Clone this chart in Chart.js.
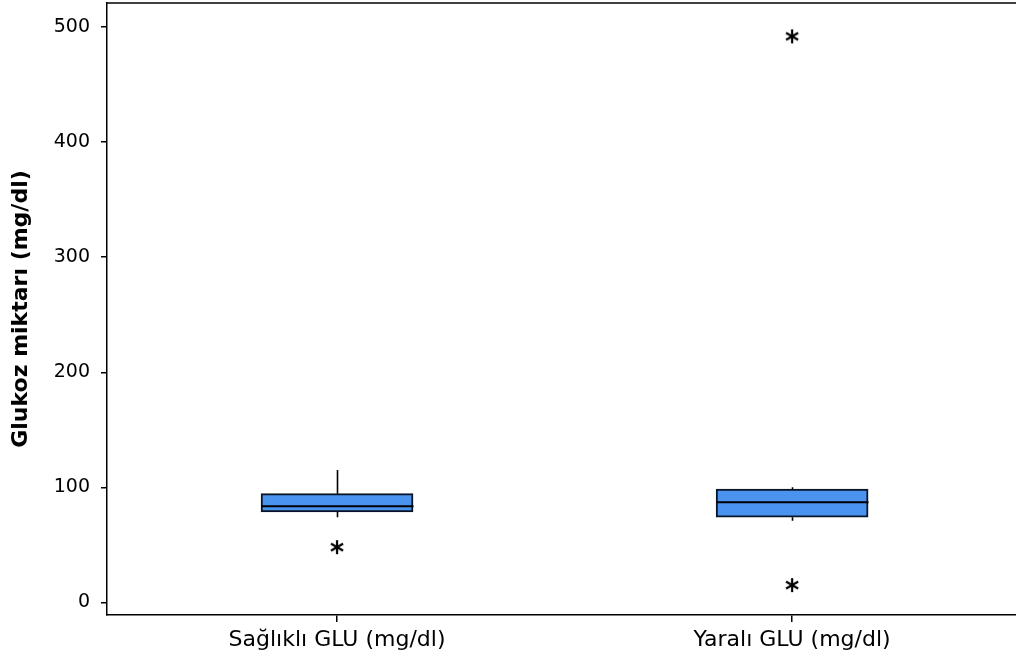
<!DOCTYPE html>
<html>
<head>
<meta charset="utf-8">
<script src="https://cdn.jsdelivr.net/npm/chart.js@4/dist/chart.umd.min.js"></script>
<style>
html,body{margin:0;padding:0;background:#fff;}
#wrap{width:1016px;height:662px;position:relative;}
</style>
</head>
<body>
<div id="wrap"><canvas id="c" width="1016" height="662"></canvas></div>
<script>
// ---- data ----
const categories = ['Sağlıklı GLU (mg/dl)', 'Yaralı GLU (mg/dl)'];
const positions = [1, 2];
const q1 = [78.5, 74];
const median = [83.5, 87];
const q3 = [94.5, 98.5];
const whiskerLow = [74, 71];
const whiskerHigh = [115, 100];
const outliers = [[48], [15, 492]];
const yTicks = [0, 100, 200, 300, 400, 500];

// asterisk point style
function makeStar(){
  const s = 18, cv = document.createElement('canvas');
  cv.width = s; cv.height = s;
  const g = cv.getContext('2d');
  g.strokeStyle = '#000'; g.lineWidth = 2.2; g.lineCap = 'butt';
  const cx = s/2, cy = s/2, r = 7;
  [90, 30, 150].forEach(a => {
    const rad = a*Math.PI/180, dx = Math.cos(rad)*r, dy = Math.sin(rad)*r;
    g.beginPath(); g.moveTo(cx-dx, cy-dy); g.lineTo(cx+dx, cy+dy); g.stroke();
  });
  return cv;
}
const star = makeStar();

const boxData = positions.map((p,i) => ({x: p, y: [q1[i], q3[i]]}));
const outlierData = [];
outliers.forEach((arr,i) => arr.forEach(v => outlierData.push({x: positions[i], y: v})));

const boxPlugin = {
  id: 'boxExtras',
  afterDatasetsDraw(chart){
    const ctx = chart.ctx, xs = chart.scales.x, ys = chart.scales.y;
    const half = 76;
    ctx.save();
    ctx.strokeStyle = '#000';
    positions.forEach((p,i) => {
      const x = Math.round(xs.getPixelForValue(p)) + 0.5;
      ctx.lineWidth = 1.6;
      ctx.beginPath();
      ctx.moveTo(x, ys.getPixelForValue(q3[i])); ctx.lineTo(x, ys.getPixelForValue(whiskerHigh[i]));
      ctx.moveTo(x, ys.getPixelForValue(q1[i])); ctx.lineTo(x, ys.getPixelForValue(whiskerLow[i]));
      ctx.stroke();
      ctx.lineWidth = 2;
      const ym = ys.getPixelForValue(median[i]);
      ctx.beginPath(); ctx.moveTo(x-half, ym); ctx.lineTo(x+half, ym); ctx.stroke();
    });
    // top frame line
    const a = chart.chartArea;
    ctx.lineWidth = 1.5;
    ctx.beginPath(); ctx.moveTo(a.left, a.top); ctx.lineTo(chart.width, a.top); ctx.stroke();
    ctx.restore();
  }
};

new Chart(document.getElementById('c'), {
  data: {
    datasets: [
      {
        type: 'bar',
        data: boxData,
        backgroundColor: '#4a94f0',
        borderColor: '#0a1428',
        borderWidth: 2,
        borderSkipped: false,
        barThickness: 152,
        order: 2
      },
      {
        type: 'scatter',
        data: outlierData,
        pointStyle: star,
        pointRadius: 9,
        order: 1
      }
    ]
  },
  plugins: [boxPlugin],
  options: {
    responsive: false,
    animation: false,
    layout: {autoPadding: false, padding: {top: 3, right: 0, left: 0, bottom: 0}},
    plugins: {legend: {display: false}, tooltip: {enabled: false}},
    scales: {
      x: {
        type: 'linear',
        offset: false,
        min: 0.4945,
        max: 2.492,
        afterBuildTicks(scale){ scale.ticks = positions.map(v => ({value: v})); },
        afterFit(scale){ scale.height = 47; scale.paddingLeft = 0; scale.paddingRight = 0; },
        ticks: {
          autoSkip: false,
          maxRotation: 0,
          padding: 5,
          color: '#000',
          font: {family: 'DejaVu Sans', size: 22},
          callback(v){ const i = positions.indexOf(v); return i >= 0 ? categories[i] : ''; }
        },
        grid: {offset: false, drawOnChartArea: false, drawTicks: true, tickLength: 7, color: '#000', lineWidth: 1.5},
        border: {display: true, color: '#000', width: 1.5}
      },
      y: {
        type: 'linear',
        min: -11,
        max: 521,
        afterBuildTicks(scale){ scale.ticks = yTicks.map(v => ({value: v})); },
        afterFit(scale){ scale.width = 107; scale.paddingTop = 0; scale.paddingBottom = 0; },
        ticks: {
          padding: 11,
          color: '#000',
          font: {family: 'DejaVu Sans', size: 19}
        },
        grid: {drawOnChartArea: false, drawTicks: true, tickLength: 6, color: '#000', lineWidth: 1.5},
        border: {display: true, color: '#000', width: 1.5},
        title: {
          display: true,
          text: 'Glukoz miktarı (mg/dl)',
          color: '#000',
          font: {family: 'DejaVu Sans', size: 22, weight: 'bold'},
          padding: {top: 8, bottom: 0}
        }
      }
    }
  }
});
</script>
</body>
</html>
